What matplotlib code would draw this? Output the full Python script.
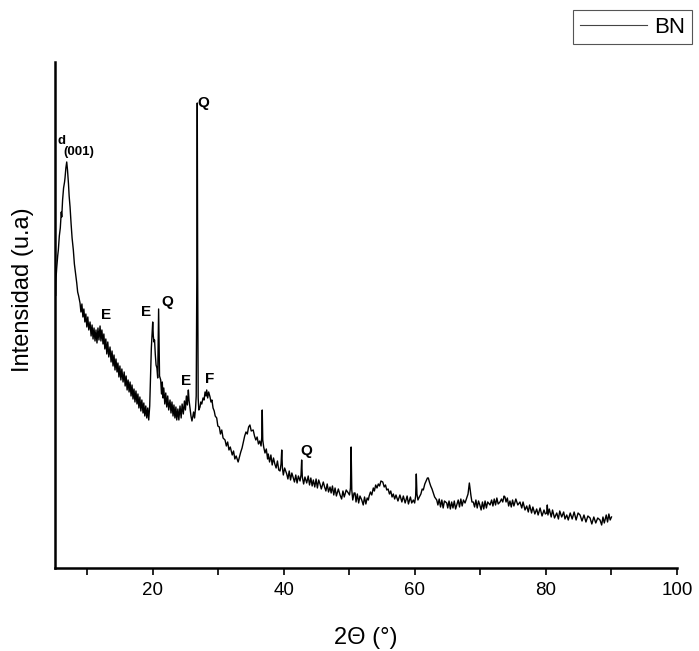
import matplotlib
matplotlib.use("Agg")
import matplotlib.pyplot as plt
from matplotlib.ticker import MultipleLocator

plt.rcParams['font.family'] = ['Liberation Sans', 'DejaVu Sans']

# 2-theta (deg) and intensity (a.u.)
two_theta = [
    5.00, 5.06, 5.12, 5.2, 5.3, 5.45, 5.55, 5.7, 5.85, 6.0, 6.07, 6.2, 6.35, 6.5, 6.57, 6.7, 6.83, 6.95,
    7.1, 7.2, 7.34, 7.5, 7.65, 7.84, 8.0, 8.15, 8.36, 8.5, 8.65, 8.86, 9.0, 9.15, 9.3, 9.45, 9.6, 9.75,
    9.9, 10.05, 10.2, 10.39, 10.55, 10.7, 10.85, 11.0, 11.15, 11.3, 11.45, 11.6, 11.75, 11.92, 12.05,
    12.2, 12.37, 12.5, 12.65, 12.8, 12.95, 13.1, 13.25, 13.44, 13.6, 13.75, 13.9, 14.05, 14.2, 14.35,
    14.51, 14.65, 14.8, 14.95, 15.1, 15.25, 15.43, 15.6, 15.75, 15.9, 16.05, 16.2, 16.35, 16.5, 16.65,
    16.8, 16.95, 17.1, 17.25, 17.4, 17.56, 17.7, 17.85, 18.0, 18.15, 18.3, 18.48, 18.6, 18.75, 18.9,
    19.05, 19.2, 19.35, 19.5, 19.63, 19.75, 19.88, 19.96, 20.05, 20.15, 20.24, 20.35, 20.47, 20.6,
    20.72, 20.8, 20.86, 20.92, 21.0, 21.18, 21.3, 21.42, 21.53, 21.65, 21.8, 21.95, 22.1, 22.25, 22.4,
    22.6, 22.75, 22.9, 23.06, 23.2, 23.35, 23.5, 23.63, 23.8, 23.95, 24.13, 24.3, 24.45, 24.63, 24.8,
    24.95, 25.1, 25.25, 25.4, 25.5, 25.65, 25.8, 25.95, 26.07, 26.2, 26.35, 26.5, 26.6, 26.7, 26.76,
    26.82, 26.9, 27.0, 27.18, 27.3, 27.45, 27.64, 27.8, 27.95, 28.1, 28.2, 28.35, 28.5, 28.71, 28.85,
    29.0, 29.17, 29.35, 29.5, 29.73, 29.9, 30.13, 30.3, 30.5, 30.7, 31.0, 31.2, 31.4, 31.6, 31.8, 32.1,
    32.3, 32.5, 32.7, 33.0, 33.2, 33.4, 33.6, 33.8, 34.0, 34.2, 34.4, 34.6, 34.8, 35.0, 35.3, 35.5,
    35.7, 35.9, 36.1, 36.3, 36.5, 36.6, 36.68, 36.76, 36.9, 37.1, 37.3, 37.5, 37.6, 37.8, 38.0, 38.2,
    38.4, 38.6, 38.8, 39.0, 39.2, 39.4, 39.55, 39.66, 39.76, 39.9, 40.1, 40.42, 40.6, 40.8, 41.0, 41.2,
    41.43, 41.6, 41.8, 42.0, 42.2, 42.45, 42.6, 42.7, 42.8, 43.0, 43.2, 43.47, 43.7, 43.9, 44.1, 44.3,
    44.48, 44.7, 44.9, 45.1, 45.3, 45.5, 45.7, 46.0, 46.2, 46.4, 46.6, 46.8, 47.03, 47.2, 47.4, 47.6,
    47.8, 48.0, 48.3, 48.56, 48.8, 49.0, 49.2, 49.5, 49.82, 50.0, 50.15, 50.25, 50.35, 50.5, 50.7,
    50.85, 51.0, 51.2, 51.4, 51.6, 51.87, 52.1, 52.3, 52.5, 52.7, 52.88, 53.0, 53.2, 53.4, 53.64, 53.8,
    54.0, 54.2, 54.4, 54.6, 54.8, 55.08, 55.3, 55.5, 55.69, 55.9, 56.1, 56.3, 56.5, 56.69, 56.9, 57.1,
    57.4, 57.7, 58.0, 58.22, 58.5, 58.8, 59.0, 59.3, 59.5, 59.75, 59.95, 60.1, 60.2, 60.3, 60.45, 60.66,
    60.9, 61.1, 61.27, 61.5, 61.7, 61.9, 62.04, 62.2, 62.4, 62.6, 62.8, 63.0, 63.32, 63.5, 63.7, 63.9,
    64.1, 64.3, 64.5, 64.85, 65.0, 65.2, 65.4, 65.6, 65.8, 66.0, 66.2, 66.37, 66.6, 66.8, 67.0, 67.2,
    67.4, 67.64, 67.9, 68.1, 68.3, 68.4, 68.55, 68.7, 68.9, 69.1, 69.3, 69.5, 69.7, 69.9, 70.1, 70.3,
    70.5, 70.7, 70.9, 71.1, 71.46, 71.7, 71.9, 72.1, 72.3, 72.5, 72.7, 72.98, 73.2, 73.4, 73.6, 73.74,
    73.9, 74.1, 74.3, 74.5, 74.7, 74.9, 75.1, 75.4, 75.7, 76.03, 76.3, 76.5, 76.8, 77.06, 77.3, 77.5,
    77.8, 78.0, 78.3, 78.58, 78.8, 79.1, 79.4, 79.7, 79.9, 80.11, 80.2, 80.3, 80.5, 80.8, 81.0, 81.3,
    81.64, 81.9, 82.1, 82.4, 82.7, 82.9, 83.17, 83.4, 83.7, 84.0, 84.3, 84.6, 84.9, 85.2, 85.5, 85.8,
    86.1, 86.4, 86.73, 87.0, 87.3, 87.6, 87.9, 88.25, 88.5, 88.7, 88.9, 89.2, 89.4, 89.6, 89.8, 90.0,
]
intensity = [
    278, 296, 272, 290, 300, 312, 318, 332, 340, 356, 351, 368, 380, 386, 390, 400, 406, 398,
    384, 372, 361, 344, 330, 318, 304, 296, 285, 276, 272, 265, 256, 264, 251, 259, 246, 254,
    241, 251, 238, 246, 232, 243, 229, 240, 227, 238, 225, 240, 228, 242, 227,
    238, 224, 234, 219, 229, 214, 226, 211, 221, 206, 217, 202, 213, 198, 209,
    196, 205, 191, 202, 188, 199, 186, 196, 182, 192, 178, 188, 176, 186, 172,
    183, 169, 179, 166, 177, 164, 174, 160, 171, 157, 168, 155, 165, 152, 162,
    150, 160, 148, 162, 192, 220, 236, 246, 232, 226, 228, 214, 203, 200,
    190, 230, 259, 232, 192, 188, 174, 186, 170, 180, 164, 175, 161, 172, 158,
    168, 155, 166, 152, 163, 150, 161, 148, 159, 148, 162, 150, 164, 154, 167,
    158, 172, 163, 178, 168, 160, 152, 147, 151, 156, 150, 160, 172, 300, 465,
    300, 170, 158, 161, 166, 164, 170, 168, 176, 172, 178, 170, 176, 171, 166,
    168, 160, 157, 152, 150, 142, 141, 134, 138, 130, 128, 122, 126, 118, 121, 113,
    117, 109, 112, 106, 111, 116, 120, 126, 132, 136, 134, 141, 143, 137, 138, 132,
    128, 131, 124, 127, 122, 130, 158, 128, 121, 115, 119, 109, 114, 106, 113, 103,
    110, 104, 100, 107, 98, 97, 104, 118, 100, 93, 100, 94, 89, 97, 88, 95,
    90, 86, 93, 85, 92, 87, 93, 108, 91, 84, 91, 85, 92, 83, 90, 82,
    88, 81, 89, 80, 88, 84, 79, 86, 81, 77, 84, 76, 81, 75, 82, 73,
    80, 72, 79, 73, 69, 77, 71, 78, 75, 73, 80, 121, 78, 68, 75,
    75, 66, 74, 65, 72, 68, 63, 71, 64, 70, 68, 72, 76, 73, 80, 77,
    83, 80, 84, 82, 87, 86, 81, 83, 78, 79, 74, 77, 71, 74, 69, 73,
    67, 73, 66, 72, 65, 72, 64, 71, 65, 68, 65, 72, 94, 74, 68, 71,
    74, 79, 78, 84, 87, 90, 90, 86, 82, 79, 75, 71, 68, 63, 69, 61,
    68, 60, 67, 65, 60, 67, 59, 66, 60, 67, 59, 63, 68, 61, 69, 62,
    68, 65, 70, 74, 85, 80, 72, 66, 66, 61, 68, 60, 67, 63, 58, 66,
    59, 67, 60, 66, 63, 68, 62, 69, 63, 70, 64, 66, 69, 66, 72, 71,
    66, 70, 62, 67, 61, 68, 62, 69, 63, 66, 60, 66, 58, 62, 56, 63,
    55, 61, 54, 59, 53, 60, 52, 58, 54, 55, 63, 53, 59, 51, 58, 50,
    55, 49, 57, 51, 56, 49, 53, 48, 55, 49, 56, 48, 55, 53, 47, 53,
    46, 52, 50, 44, 51, 45, 50, 48, 43, 51, 45, 53, 46, 54, 48, 51,
]

# peak labels: (text, 2theta, intensity)
peak_labels = [
    ('E', 12.8, 253), ('E', 19.0, 256), ('Q', 22.2, 266), ('Q', 27.7, 465),
    ('E', 25.0, 187), ('F', 28.6, 189), ('Q', 43.4, 117),
]

fig = plt.figure(figsize=(6.99, 6.51), dpi=100)
ax = fig.add_axes([0.0783, 0.1275, 0.8902, 0.7773])

line, = ax.plot(two_theta, intensity, color='black', lw=1.0, label='BN')

for txt, xx, yy in peak_labels:
    ax.text(xx, yy, txt, ha='center', va='center', fontsize=11, fontweight='bold')
ax.text(5.45, 421, 'd', ha='left', va='bottom', fontsize=9.5, fontweight='bold')
ax.text(6.25, 410, '(001)', ha='left', va='bottom', fontsize=9.5, fontweight='bold')

ax.set_xlim(5, 100)
ax.set_ylim(0, 506)
ax.xaxis.set_major_locator(MultipleLocator(20))
ax.xaxis.set_minor_locator(MultipleLocator(10))
ax.tick_params(axis='x', which='both', direction='out', length=5, width=1.2, labelsize=13.5, pad=5)
ax.set_yticks([])
for s in ['top', 'right']:
    ax.spines[s].set_visible(False)
for s in ['left', 'bottom']:
    ax.spines[s].set_linewidth(1.8)

ax.set_xlabel('2\u0398 (\u00b0)', fontsize=17, labelpad=20)
ax.set_ylabel('Intensidad (u.a)', fontsize=17)
ax.yaxis.set_label_coords(-0.034, 0.55)

leg = fig.legend(handles=[line], loc='upper right', bbox_to_anchor=(692 / 699, 1 - 10 / 651),
                 fontsize=16, frameon=True, fancybox=False, framealpha=1, edgecolor='#555555',
                 handlelength=3.0, borderpad=0.3, handletextpad=0.35, borderaxespad=0)
leg.get_frame().set_linewidth(0.8)
leg.get_lines()[0].set_color('#444444')
leg.get_lines()[0].set_linewidth(0.8)

fig.savefig('out.png', dpi=100)
